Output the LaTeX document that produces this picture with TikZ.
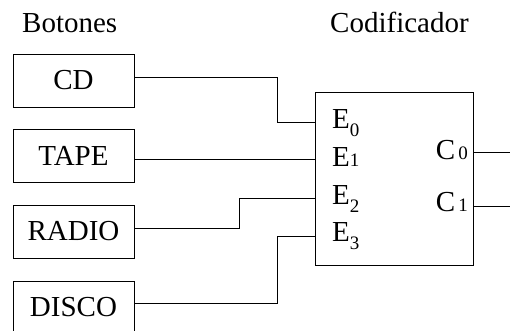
\documentclass[tikz,border=0pt]{standalone}
\usepackage{fontspec}
\setmainfont{Liberation Serif}
\usepackage{xcolor}
\usetikzlibrary{positioning, calc}
\newcommand{\lowdig}[1]{\raisebox{-8pt}{\fontsize{19}{19}\selectfont #1}}
\newcommand{\smalldig}[1]{{\fontsize{19}{19}\selectfont #1}}
\tikzset{
    % Base style for all texts
    plain base/.style={
        font=\fontsize{29}{34}\selectfont,
        text=black,
        inner sep=0pt,
    },
    % Button boxes on the left
    button/.style={
        plain base,
        rectangle,
        draw=black,
        line width=0.9pt,
        minimum width=121pt,
        minimum height=53pt,
    },
    % Encoder block
    encoder/.style={
        rectangle,
        draw=black,
        line width=0.9pt,
        minimum width=158pt,
        minimum height=173pt,
    },
    % Plain wires
    wire/.style={
        draw=black,
        line width=0.9pt,
    },
    % Labels of the encoder ports
    port label/.style={
        plain base,
        anchor=base west,
    },
}

\begin{document}
\begin{tikzpicture}[x=1pt, y=1pt, node distance=75.5pt]
    \useasboundingbox (0,0) rectangle (510,331);

    \node (botones) [plain base, anchor=base west] at (22,298) {Botones};
    \node (codif) [plain base, anchor=base west] at (330,298) {Codificador};

    \node (cd) [button] at (73.5,250.5) {CD};
    \node (tape) [button, below of=cd] {TAPE};
    \node (radio) [button, below of=tape] {RADIO};
    \node (disco) [button, below of=radio, yshift=-0.5pt] {DISCO};

    \node (enc) [encoder] at (394,152.5) {};
    \coordinate (e0) at (315,209);
    \coordinate (e1) at (315,172);
    \coordinate (e2) at (315,133);
    \coordinate (e3) at (315,95);
    \coordinate (out0) at (510,179);
    \coordinate (out1) at (510,125);

    \node (le0) [port label] at (332,202) {E\lowdig{0}};
    \node (le1) [port label] at (332,164) {E\smalldig{1}};
    \node (le2) [port label] at (332,126) {E\lowdig{2}};
    \node (le3) [port label] at (332,89) {E\lowdig{3}};
    \node (lc0) [plain base, anchor=base east] at (468,171) {C\kern3pt\smalldig{0}};
    \node (lc1) [plain base, anchor=base east] at (468,119) {C\kern3pt\smalldig{1}};

    \draw [wire] ([yshift=3.5pt]cd.east) -| ([xshift=-38pt]e0) -- (e0);
    \draw [wire] (tape.east |- e1) -- (e1);
    \draw [wire] ([yshift=3.5pt]radio.east) -| ([xshift=-76pt]e2) -- (e2);
    \draw [wire] ([yshift=4.5pt]disco.east) -| ([xshift=-38pt]e3) -- (e3);
    \draw [wire] (enc.east |- out0) -- (out0);
    \draw [wire] (enc.east |- out1) -- (out1);
\end{tikzpicture}
\end{document}
